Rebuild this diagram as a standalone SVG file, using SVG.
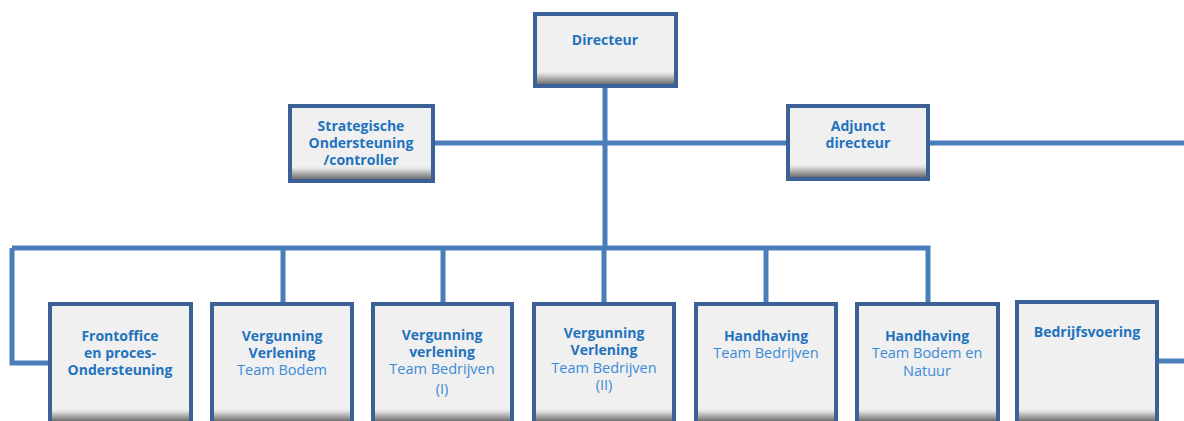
<svg xmlns="http://www.w3.org/2000/svg" width="1184" height="421" viewBox="0 0 1184 421">
<defs>
<linearGradient id="shade" x1="0" y1="0" x2="0" y2="1">
<stop offset="0" stop-color="#F0F0F0" stop-opacity="0"/>
<stop offset="0.45" stop-color="#C4C4C4"/>
<stop offset="1" stop-color="#707070"/>
</linearGradient>
<style>
.box{fill:#F0F0F0;stroke:#3B6196;stroke-width:4}
.sh{fill:url(#shade)}
.ln{fill:none;stroke:#4A7EBB;stroke-width:5}
text{font-family:"Open Sans","Liberation Sans",sans-serif;text-anchor:middle}
.b{font-weight:bold;fill:#1F73BE;font-size:14px}
.r{fill:#3A8AD6;font-size:14.5px}
</style>
</defs>
<rect width="1184" height="421" fill="#FFFFFF"/>
<g id="connectors">
<path class="ln" d="M605 87 V248"/>
<path class="ln" d="M434 143 H788"/>
<path class="ln" d="M929 143 H1184"/>
<path class="ln" d="M12 248 H928 V302"/>
<path class="ln" d="M12 248 V363 H48"/>
<path class="ln" d="M283 248 V302"/>
<path class="ln" d="M443 248 V302"/>
<path class="ln" d="M604 248 V302"/>
<path class="ln" d="M766 248 V302"/>
<path class="ln" d="M1158 361 H1184"/>
</g>
<g id="directeur">
<rect class="box" x="535" y="14" width="141" height="72"/>
<rect class="sh" x="537" y="70" width="137" height="14"/>
<text class="b" x="605" y="45">Directeur</text>
</g>
<g id="strategische">
<rect class="box" x="290" y="106" width="143" height="75"/>
<rect class="sh" x="292" y="165" width="139" height="14"/>
<text class="b" x="361" y="131">Strategische</text>
<text class="b" x="361" y="148">Ondersteuning</text>
<text class="b" x="361" y="165">/controller</text>
</g>
<g id="adjunct">
<rect class="box" x="788" y="106" width="140" height="73"/>
<rect class="sh" x="790" y="163" width="136" height="14"/>
<text class="b" x="858" y="131">Adjunct</text>
<text class="b" x="858" y="148">directeur</text>
</g>
<g id="frontoffice">
<rect class="box" x="50" y="304" width="141" height="130"/>
<rect class="sh" x="52" y="408" width="137" height="13"/>
<text class="b" x="120" y="341">Frontoffice</text>
<text class="b" x="120" y="358">en proces-</text>
<text class="b" x="120" y="375">Ondersteuning</text>
</g>
<g id="vv-bodem">
<rect class="box" x="212" y="304" width="140" height="130"/>
<rect class="sh" x="214" y="408" width="136" height="13"/>
<text class="b" x="282" y="341">Vergunning</text>
<text class="b" x="282" y="358">Verlening</text>
<text class="r" x="282" y="375">Team Bodem</text>
</g>
<g id="vv-bedrijven-1">
<rect class="box" x="373" y="304" width="139" height="130"/>
<rect class="sh" x="375" y="408" width="135" height="13"/>
<text class="b" x="442" y="340">Vergunning</text>
<text class="b" x="442" y="357">verlening</text>
<text class="r" x="442" y="374">Team Bedrijven</text>
<text class="r" x="442" y="394">(I)</text>
</g>
<g id="vv-bedrijven-2">
<rect class="box" x="534" y="304" width="140" height="130"/>
<rect class="sh" x="536" y="408" width="136" height="13"/>
<text class="b" x="604" y="338">Vergunning</text>
<text class="b" x="604" y="355">Verlening</text>
<text class="r" x="604" y="373">Team Bedrijven</text>
<text class="r" x="604" y="390">(II)</text>
</g>
<g id="hh-bedrijven">
<rect class="box" x="696" y="304" width="140" height="130"/>
<rect class="sh" x="698" y="408" width="136" height="13"/>
<text class="b" x="766" y="341">Handhaving</text>
<text class="r" x="766" y="358">Team Bedrijven</text>
</g>
<g id="hh-bodem">
<rect class="box" x="857" y="304" width="141" height="130"/>
<rect class="sh" x="859" y="408" width="137" height="13"/>
<text class="b" x="927" y="341">Handhaving</text>
<text class="r" x="927" y="358">Team Bodem en</text>
<text class="r" x="927" y="376">Natuur</text>
</g>
<g id="bedrijfsvoering">
<rect class="box" x="1017" y="302" width="140" height="132"/>
<rect class="sh" x="1019" y="408" width="136" height="13"/>
<text class="b" x="1087" y="337">Bedrijfsvoering</text>
</g>
</svg>
